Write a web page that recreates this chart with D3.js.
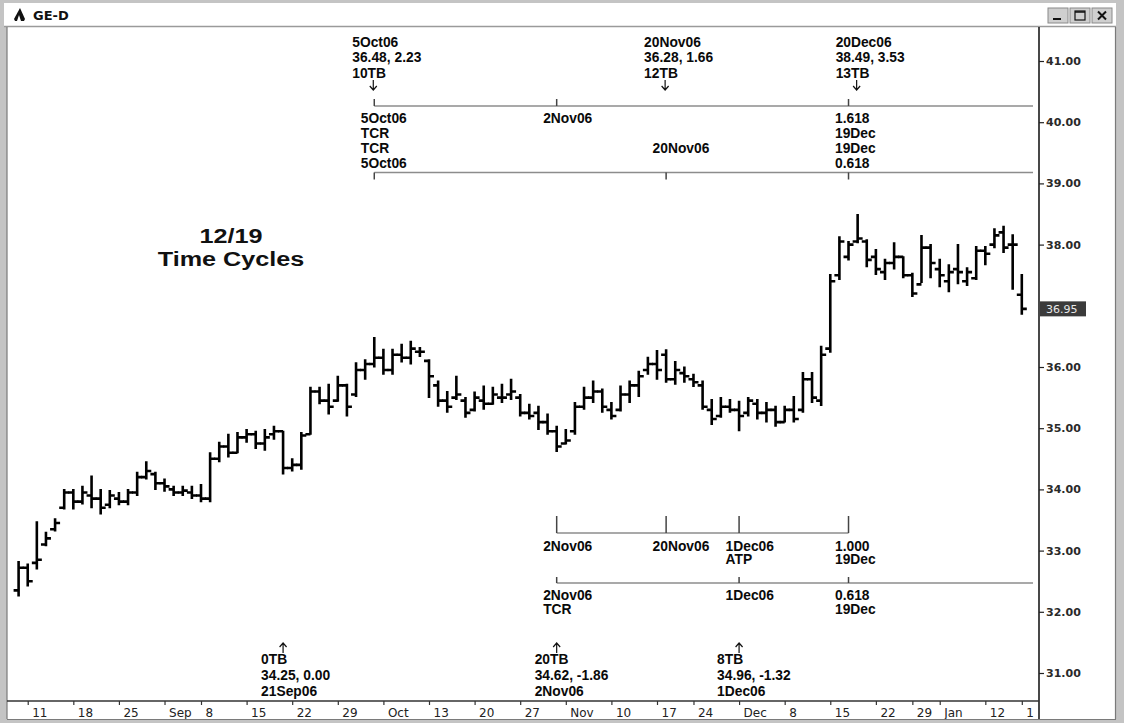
<!DOCTYPE html>
<html>
<head>
<meta charset="utf-8">
<script src="https://cdn.jsdelivr.net/npm/d3@7"></script>
<style>
  html, body { margin: 0; padding: 0; background: #fff; }
  svg { display: block; }
</style>
</head>
<body>
<svg id="chart" width="1124" height="723"></svg>
<script>
// ---- GE daily bars, 10 Aug 2006 to 19 Jan 2007 ----
const dates = [
  "2006-08-10","2006-08-11","2006-08-14","2006-08-15","2006-08-16","2006-08-17","2006-08-18",
  "2006-08-21","2006-08-22","2006-08-23","2006-08-24","2006-08-25","2006-08-28","2006-08-29",
  "2006-08-30","2006-08-31","2006-09-01","2006-09-05","2006-09-06","2006-09-07","2006-09-08",
  "2006-09-11","2006-09-12","2006-09-13","2006-09-14","2006-09-15","2006-09-18","2006-09-19",
  "2006-09-20","2006-09-21","2006-09-22","2006-09-25","2006-09-26","2006-09-27","2006-09-28",
  "2006-09-29","2006-10-02","2006-10-03","2006-10-04","2006-10-05","2006-10-06","2006-10-09",
  "2006-10-10","2006-10-11","2006-10-12","2006-10-13","2006-10-16","2006-10-17","2006-10-18",
  "2006-10-19","2006-10-20","2006-10-23","2006-10-24","2006-10-25","2006-10-26","2006-10-27",
  "2006-10-30","2006-10-31","2006-11-01","2006-11-02","2006-11-03","2006-11-06","2006-11-07",
  "2006-11-08","2006-11-09","2006-11-10","2006-11-13","2006-11-14","2006-11-15","2006-11-16",
  "2006-11-17","2006-11-20","2006-11-21","2006-11-22","2006-11-24","2006-11-27","2006-11-28",
  "2006-11-29","2006-11-30","2006-12-01","2006-12-04","2006-12-05","2006-12-06","2006-12-07",
  "2006-12-08","2006-12-11","2006-12-12","2006-12-13","2006-12-14","2006-12-15","2006-12-18",
  "2006-12-19","2006-12-20","2006-12-21","2006-12-22","2006-12-26","2006-12-27","2006-12-28",
  "2006-12-29","2007-01-03","2007-01-04","2007-01-05","2007-01-08","2007-01-09","2007-01-10",
  "2007-01-11","2007-01-12","2007-01-16","2007-01-17","2007-01-18","2007-01-19"
];

const opens = [
  32.35,32.72,32.80,33.10,33.35,33.70,33.95,33.80,33.90,33.85,33.75,33.85,33.80,33.95,
  34.20,34.25,34.10,34.00,33.95,33.95,33.90,33.85,34.50,34.70,34.60,34.85,34.90,34.75,
  34.90,34.95,34.35,34.40,34.90,35.60,35.45,35.45,35.70,35.55,35.95,36.05,36.15,35.95,
  36.20,36.15,36.25,36.10,35.70,35.45,35.50,35.45,35.30,35.45,35.40,35.50,35.55,35.50,
  35.25,35.25,35.10,34.95,34.75,34.95,35.35,35.50,35.60,35.30,35.30,35.55,35.70,35.95,
  36.05,36.20,35.80,35.90,35.80,35.70,35.30,35.20,35.35,35.30,35.25,35.40,35.25,35.30,
  35.10,35.30,35.30,35.80,35.45,36.30,37.50,37.80,38.05,38.05,37.80,37.55,37.70,37.80,
  37.50,37.35,37.95,37.60,37.40,37.60,37.40,37.45,37.90,38.00,38.20,38.00,37.18
];
const highs = [
  32.82,32.78,33.47,33.30,33.52,34.00,34.00,34.05,34.22,34.00,33.98,33.95,34.00,34.28,
  34.45,34.28,34.17,34.05,34.05,34.05,34.08,34.60,34.77,34.90,34.93,34.98,34.95,34.98,
  35.03,34.95,34.50,34.93,35.67,35.67,35.72,35.85,35.72,36.07,36.12,36.48,36.29,36.29,
  36.37,36.42,36.32,36.12,35.77,35.60,35.85,35.50,35.59,35.69,35.67,35.72,35.80,35.55,
  35.39,35.36,35.23,35.03,34.98,35.42,35.67,35.77,35.64,35.42,35.69,35.77,35.93,36.16,
  36.27,36.28,36.09,36.00,35.88,35.77,35.47,35.50,35.47,35.44,35.50,35.47,35.42,35.36,
  35.36,35.52,35.91,35.91,36.34,37.51,38.13,38.05,38.49,38.08,37.92,37.76,38.03,37.80,
  37.53,38.15,38.00,37.76,37.67,38.00,37.62,37.97,37.97,38.26,38.30,38.16,37.51
];
const lows = [
  32.26,32.42,32.70,33.08,33.32,33.68,33.68,33.76,33.70,33.60,33.70,33.75,33.75,33.90,
  34.17,34.00,33.97,33.90,33.90,33.85,33.80,33.80,34.45,34.53,34.60,34.77,34.67,34.64,
  34.82,34.25,34.30,34.33,34.90,35.40,35.23,35.44,35.20,35.52,35.80,36.00,35.88,35.88,
  36.08,36.05,36.17,35.50,35.36,35.26,35.47,35.18,35.28,35.31,35.39,35.42,35.47,35.20,
  35.15,34.98,34.90,34.62,34.74,34.90,35.31,35.42,35.26,35.15,35.28,35.42,35.52,35.88,
  35.80,35.75,35.72,35.75,35.68,35.31,35.06,35.18,35.26,34.96,35.20,35.15,35.10,35.03,
  35.10,35.10,35.26,35.42,35.37,36.24,37.43,37.75,38.03,37.64,37.51,37.43,37.60,37.46,
  37.15,37.38,37.46,37.31,37.23,37.36,37.33,37.43,37.67,37.95,37.87,37.27,36.86
];
const closes = [
  32.72,32.50,32.85,33.20,33.45,33.95,33.80,33.95,33.85,33.70,33.90,33.80,33.95,34.20,
  34.30,34.10,34.05,33.95,33.98,33.90,33.85,34.50,34.70,34.60,34.85,34.90,34.75,34.85,
  34.95,34.35,34.40,34.88,35.60,35.45,35.35,35.70,35.35,35.95,36.05,36.15,35.95,36.20,
  36.15,36.30,36.25,35.85,35.45,35.35,35.55,35.25,35.50,35.40,35.55,35.50,35.60,35.25,
  35.20,35.10,34.95,34.70,34.80,35.35,35.50,35.60,35.35,35.20,35.55,35.70,35.85,36.05,
  35.95,35.80,35.95,35.85,35.75,35.35,35.15,35.35,35.30,35.20,35.45,35.25,35.30,35.10,
  35.30,35.15,35.80,35.50,36.20,37.40,38.05,38.00,38.10,37.75,37.60,37.70,37.80,37.50,
  37.20,37.95,37.70,37.50,37.55,37.55,37.55,37.90,37.85,38.15,37.95,38.00,36.95
];

// weekly (Friday) axis marks
const tickDates = [
  "2006-08-11","2006-08-18","2006-08-25","2006-09-01","2006-09-08","2006-09-15","2006-09-22",
  "2006-09-29","2006-10-06","2006-10-13","2006-10-20","2006-10-27","2006-11-03","2006-11-10",
  "2006-11-17","2006-11-24","2006-12-01","2006-12-08","2006-12-15","2006-12-22","2006-12-29",
  "2007-01-05","2007-01-12","2007-01-19"
];
const tickLabels = ["11","18","25","Sep","8","15","22","29","Oct","13","20","27",
                    "Nov","10","17","24","Dec","8","15","22","29","Jan","12","19"];
const priceTicks = [31, 32, 33, 34, 35, 36, 37, 38, 39, 40, 41];
const lastPrice = closes[closes.length - 1];

// swing pivots (alternating lows and highs)
const pivotDates = ["2006-09-21","2006-10-05","2006-11-02","2006-11-20","2006-12-01","2006-12-20"];
const pivotKinds = ["low","high","low","high","low","high"];

// time-cycle rulers: [date, label lines]
const cycleTop1 = [["2006-10-05", ["5Oct06", "TCR"]], ["2006-11-02", ["2Nov06"]], ["2006-12-19", ["1.618", "19Dec"]]];
const cycleTop2 = [["2006-10-05", ["TCR", "5Oct06"]], ["2006-11-20", ["20Nov06"]], ["2006-12-19", ["19Dec", "0.618"]]];
const cycleBot1 = [["2006-11-02", ["2Nov06"]], ["2006-11-20", ["20Nov06"]], ["2006-12-01", ["1Dec06", "ATP"]], ["2006-12-19", ["1.000", "19Dec"]]];
const cycleBot2 = [["2006-11-02", ["2Nov06", "TCR"]], ["2006-12-01", ["1Dec06"]], ["2006-12-19", ["0.618", "19Dec"]]];

// ---- drawing ----
const W = 1124, H = 723;
const axisX = 1039;       // price axis line
const plotLeft = 7;
const axisY = 701;        // date axis line
const svg = d3.select("#chart");

const x = d3.scalePoint().domain(dates).range([18.6, 1021.8]);
const y = d3.scaleLinear().domain([31, 41]).range([673, 61]);

const bars = dates.map((d, i) => ({ d, o: opens[i], h: highs[i], l: lows[i], c: closes[i] }));

// window frame
svg.append("rect").attr("x", 0).attr("y", 0).attr("width", W).attr("height", H).attr("fill", "#c4c4c4");
svg.append("rect").attr("x", 4).attr("y", 3).attr("width", 1112).attr("height", 23).attr("fill", "#ffffff");
svg.append("rect").attr("x", plotLeft).attr("y", 27).attr("width", 1108).attr("height", 692).attr("fill", "#ffffff");
svg.append("line").attr("x1", 4).attr("x2", 1116).attr("y1", 26.5).attr("y2", 26.5).attr("stroke", "#9a9a9a").attr("stroke-width", 1.5);
svg.append("line").attr("x1", plotLeft).attr("x2", plotLeft).attr("y1", 27).attr("y2", 719).attr("stroke", "#7a7a7a").attr("stroke-width", 1.2);
svg.append("line").attr("x1", 1115.5).attr("x2", 1115.5).attr("y1", 27).attr("y2", 719).attr("stroke", "#7a7a7a").attr("stroke-width", 1.2);
svg.append("line").attr("x1", plotLeft).attr("x2", 1116).attr("y1", 719.5).attr("y2", 719.5).attr("stroke", "#7a7a7a").attr("stroke-width", 1.2);

// title bar
const icon = svg.append("g").attr("transform", "translate(14,8)");
icon.append("path").attr("d", "M6,0 L11,11 L10,13 L1,13 L0,11 Z").attr("fill", "#111");
icon.append("path").attr("d", "M3,13 L5,7 L7,13 Z").attr("fill", "#fff");
svg.append("text").attr("x", 33).attr("y", 20)
  .attr("font-family", "DejaVu Sans, Verdana, sans-serif").attr("font-weight", "bold")
  .attr("font-size", 13).attr("fill", "#111").text("GE-D");

const btns = [["min", 1048], ["max", 1070], ["close", 1092]];
btns.forEach(([k, bx]) => {
  const g = svg.append("g").attr("transform", `translate(${bx},8)`);
  g.append("rect").attr("width", 20).attr("height", 15).attr("fill", "#cfcfcf")
    .attr("stroke", "#8a8a8a").attr("stroke-width", 1);
  if (k === "min") g.append("rect").attr("x", 5).attr("y", 10).attr("width", 8).attr("height", 2).attr("fill", "#111");
  if (k === "max") {
    g.append("rect").attr("x", 5).attr("y", 3).attr("width", 10).attr("height", 9)
      .attr("fill", "none").attr("stroke", "#111").attr("stroke-width", 1.2);
    g.append("line").attr("x1", 5).attr("x2", 15).attr("y1", 4).attr("y2", 4).attr("stroke", "#111").attr("stroke-width", 1.5);
  }
  if (k === "close") {
    g.append("path").attr("d", "M6,3.5 L14,11.5 M14,3.5 L6,11.5").attr("stroke", "#111").attr("stroke-width", 2);
  }
});

// price axis
svg.append("line").attr("x1", axisX).attr("x2", axisX).attr("y1", 27).attr("y2", 719)
  .attr("stroke", "#1a1a1a").attr("stroke-width", 1.6);
const yAxis = svg.append("g").attr("transform", `translate(${axisX},0)`)
  .call(d3.axisRight(y).tickValues(priceTicks).tickFormat(d3.format(".2f")).tickSize(5).tickPadding(2));
yAxis.select(".domain").remove();
yAxis.selectAll(".tick line").attr("stroke", "#222").attr("stroke-width", 1.2);
yAxis.selectAll(".tick text").attr("font-family", "DejaVu Sans, Verdana, sans-serif")
  .attr("font-weight", "bold").attr("font-size", 11).attr("fill", "#2a2a2a");
yAxis.selectAll(".tick").filter(d => d === 37).remove();

// last price marker
const lp = svg.append("g").attr("transform", `translate(${axisX + 1},${y(lastPrice)})`);
lp.append("rect").attr("x", 0).attr("y", -7.5).attr("width", 46).attr("height", 15).attr("fill", "#3b3b3b");
lp.append("text").attr("x", 6).attr("y", 0).attr("dy", "0.36em")
  .attr("font-family", "DejaVu Sans, Verdana, sans-serif").attr("font-size", 11)
  .attr("fill", "#e8e8e8").text(d3.format(".2f")(lastPrice));

// date axis (labels cut off at the price axis)
svg.append("defs").append("clipPath").attr("id", "dateclip")
  .append("rect").attr("x", plotLeft).attr("y", -2).attr("width", 1034 - plotLeft).attr("height", 20);
svg.append("line").attr("x1", plotLeft).attr("x2", axisX).attr("y1", axisY).attr("y2", axisY)
  .attr("stroke", "#333").attr("stroke-width", 1.4);
const xAxis = svg.append("g").attr("transform", `translate(0,${axisY})`).attr("clip-path", "url(#dateclip)")
  .call(d3.axisBottom(x).tickValues(tickDates).tickSize(4).tickFormat((d, i) => tickLabels[i]));
xAxis.select(".domain").remove();
xAxis.selectAll(".tick line").attr("stroke", "#333").attr("stroke-width", 1.2);
xAxis.selectAll(".tick text").attr("text-anchor", "start").attr("x", 4).attr("y", 7)
  .attr("font-family", "DejaVu Sans, Verdana, sans-serif").attr("font-size", 12).attr("fill", "#222");

// OHLC bars
const barG = svg.append("g").attr("stroke", "#000").attr("stroke-width", 2.6).attr("stroke-linecap", "butt");
barG.selectAll("path").data(bars).join("path")
  .attr("fill", "none")
  .attr("d", b => {
    const cx = x(b.d);
    return `M${cx},${y(b.h) - 0.5}V${y(b.l) + 0.5}` +
           `M${cx - 5},${y(b.o)}H${cx}` +
           `M${cx},${y(b.c)}H${cx + 5}`;
  });

// chart note
const note = svg.append("g").attr("transform", "translate(231,0)")
  .attr("font-family", "Liberation Sans, Arial, sans-serif").attr("font-weight", "bold")
  .attr("font-size", 21).attr("fill", "#111").attr("text-anchor", "middle");
note.append("text").attr("transform", "translate(0,243) scale(1.2,1)").text("12/19");
note.append("text").attr("transform", "translate(0,266) scale(1.2,1)").text("Time Cycles");

// annotation text helper
const annFont = g => g.attr("font-family", "Liberation Sans, Arial, sans-serif")
  .attr("font-weight", "bold").attr("font-size", 13.8).attr("fill", "#0a0a0a");
function textBlock(parent, x0, yBase, lines, step) {
  lines.forEach((t, k) => parent.append("text").attr("x", x0).attr("y", yBase + k * step).text(t));
}
function arrow(parent, cx, y1, y2) {
  const dir = y2 > y1 ? 1 : -1;
  parent.append("path").attr("fill", "none").attr("stroke", "#111").attr("stroke-width", 1.2)
    .attr("d", `M${cx},${y1}V${y2}M${cx - 3.5},${y2 - dir * 4}L${cx},${y2}L${cx + 3.5},${y2 - dir * 4}`);
}

// pivot labels
const fmtDate = d3.timeFormat("%-d%b%y");
const parse = d3.timeParse("%Y-%m-%d");
const f2 = d3.format(".2f");
const pivG = svg.append("g").call(annFont);
let prevPrice = null, prevIdx = null;
pivotDates.forEach((pd, k) => {
  const idx = dates.indexOf(pd);
  const price = pivotKinds[k] === "high" ? highs[idx] : lows[idx];
  const chg = prevPrice === null ? 0 : price - prevPrice;
  const tb = prevIdx === null ? 0 : idx - prevIdx;
  const cx = x(pd);
  const lines = [fmtDate(parse(pd)), `${f2(price)}, ${f2(chg).replace("−", "-")}`, `${tb}TB`];
  if (pivotKinds[k] === "high") {
    textBlock(pivG, cx - 22, 46.5, lines, 15.5);
    arrow(pivG, cx - 1, 80, 90);
  } else {
    textBlock(pivG, cx - 22, 664, lines.slice().reverse(), 16);
    arrow(pivG, cx, 653, 643);
  }
  prevPrice = price; prevIdx = idx;
});

// time-cycle rulers
const rulerG = svg.append("g");
const labelG = svg.append("g").call(annFont);
function ruler(marks, yLine, tickTop, tickBot, xEnd, labelBase, labelStep) {
  const xs = marks.map(m => x(m[0]));
  rulerG.append("line").attr("x1", xs[0]).attr("x2", xEnd).attr("y1", yLine).attr("y2", yLine)
    .attr("stroke", "#8c8c8c").attr("stroke-width", 1.5);
  marks.forEach((m, k) => {
    rulerG.append("line").attr("x1", xs[k]).attr("x2", xs[k]).attr("y1", tickTop).attr("y2", tickBot)
      .attr("stroke", "#444").attr("stroke-width", 1.5);
    textBlock(labelG, xs[k] - 13.5, labelBase, m[1], labelStep);
  });
}
ruler(cycleTop1, 106, 99, 106, 1033, 122.5, 15);
ruler(cycleTop2, 172.5, 172.5, 179.5, 1033, 152.5, 15);
ruler(cycleBot1, 533, 516, 533, x("2006-12-19"), 551, 13);
ruler(cycleBot2, 583, 577, 583, 1033, 600, 14);
</script>
</body>
</html>
